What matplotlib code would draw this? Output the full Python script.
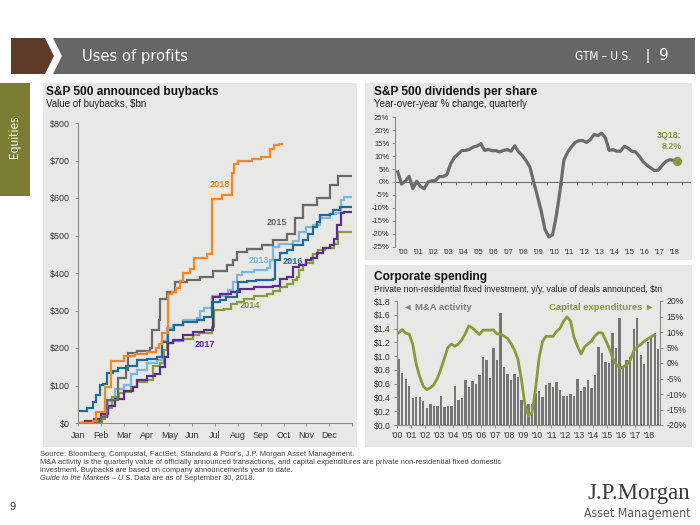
import matplotlib
matplotlib.use('Agg')
import matplotlib.pyplot as plt
import matplotlib.transforms as mtrans
from matplotlib.patches import Rectangle, Polygon

plt.rcParams['font.family'] = ['Liberation Sans', 'DejaVu Sans']

# ---------------- data ----------------
months = ['Jan', 'Feb', 'Mar', 'Apr', 'May', 'Jun',
          'Jul', 'Aug', 'Sep', 'Oct', 'Nov', 'Dec']

# announced buybacks, cumulative $bn (x = month of year, 0 = Jan 1)
bb2013_x = [0, 0.7, 1.0, 1.3, 1.6, 2.0, 2.3, 2.57, 3.0, 3.45, 3.7, 3.9, 4.18, 4.6, 5.2, 5.35,
            5.5, 5.86, 6.2, 6.55, 6.8, 6.95, 7.2, 7.7, 8.26, 8.4, 8.55, 8.8, 9.42, 9.7, 10.0,
            10.3, 10.6, 11.04, 11.3, 11.5, 11.65, 12.0]
bb2013_y = [0, 5, 20, 60, 90, 101, 130, 141, 160, 168, 220, 253, 261, 275, 280, 300,
            308, 340, 340, 355, 375, 396, 403, 409, 413, 435, 470, 478, 485, 510, 523,
            527, 548, 557, 560, 595, 603, 603]

bb2014_x = [0, 0.8, 1.04, 1.2, 1.5, 1.8, 2.0, 2.3, 2.6, 3.0, 3.3, 3.6, 3.75, 3.88, 4.18, 4.6,
            5.05, 5.3, 5.8, 5.86, 5.97, 6.4, 6.7, 6.95, 7.25, 7.7, 8.26, 8.55, 8.85, 9.14, 9.4,
            9.6, 9.7, 9.85, 10.0, 10.3, 10.5, 10.8, 11.2, 11.4, 12.0]
bb2014_y = [0, 3, 11, 40, 70, 80, 84, 95, 110, 115, 153, 161, 195, 213, 218, 225,
            235, 240, 240, 257, 301, 305, 318, 323, 331, 340, 345, 351, 363, 372, 381,
            390, 408, 421, 428, 450, 462, 467, 478, 510, 510]

bb2015_x = [0, 0.9, 1.0, 1.26, 1.75, 2.1, 2.2, 2.57, 3.15, 3.23, 3.56, 3.6, 3.88, 4.25, 4.76,
            5.34, 5.93, 6.51, 6.8, 6.95, 7.39, 8.04, 8.55, 9.14, 9.5, 9.86, 10.45, 11.04,
            11.4, 12.0]
bb2015_y = [0, 5, 16, 61, 120, 141, 186, 192, 200, 248, 275, 331, 350, 375, 381,
            390, 405, 421, 435, 455, 465, 475, 487, 505, 547, 582, 600, 634,
            660, 660]

bb2016_x = [0, 0.38, 0.67, 0.8, 0.96, 1.1, 1.26, 1.55, 1.77, 2.1, 2.57, 3.0, 3.45, 3.6, 3.7,
            3.96, 4.2, 4.6, 5.2, 5.5, 5.86, 6.2, 6.5, 6.95, 7.0, 7.4, 7.8, 8.55, 8.63, 8.85,
            9.14, 9.43, 9.87, 10.09, 10.31, 10.45, 10.6, 11.04, 11.18, 11.48, 12.0]
bb2016_y = [33, 40, 57, 74, 101, 104, 133, 138, 147, 151, 168, 172, 177, 177, 217,
            248, 261, 270, 276, 282, 323, 329, 336, 353, 377, 380, 382, 385, 435, 453,
            462, 475, 487, 505, 523, 535, 555, 558, 567, 577, 577]

bb2017_x = [0, 0.3, 0.7, 1.0, 1.3, 1.6, 2.0, 2.4, 2.57, 3.0, 3.38, 3.6, 3.8, 3.96, 4.18, 4.6,
            5.05, 5.5, 5.9, 6.2, 6.7, 7.1, 7.7, 8.55, 8.85, 9.14, 9.4, 9.7, 10.0, 10.2, 10.45,
            10.75, 11.04, 11.2, 11.35, 11.5, 11.65, 12.0]
bb2017_y = [0, 5, 10, 25, 45, 65, 85, 95, 115, 125, 132, 150, 177, 213, 222, 235,
            244, 247, 337, 345, 350, 357, 362, 366, 385, 390, 417, 422, 435, 440, 453,
            467, 475, 492, 528, 559, 563, 563]

bb2018_x = [0, 0.66, 0.8, 1.18, 1.45, 2.0, 2.5, 3.0, 3.4, 3.55, 3.7, 3.95, 4.1, 4.3, 4.45,
            4.6, 4.9, 5.1, 5.63, 5.87, 6.29, 6.75, 6.85, 7.0, 7.6, 8.0, 8.4, 8.6, 8.8, 8.95]
bb2018_y = [0, 5, 30, 95, 165, 180, 185, 190, 200, 210, 240, 345, 350, 360, 380,
            400, 410, 440, 450, 598, 608, 667, 692, 700, 705, 710, 730, 741, 745, 745]

# S&P 500 dividends per share, y/y %, quarterly 1Q00 - 3Q18
div_years = list(range(2000, 2019))
div_yoy = [3.9, -0.8, 0.3, 2.2, -2.6, 0.3, -1.7, -2.6, 0.0, 0.5, 0.6, 2.1,
           2.1, 2.8, 7.0, 9.5, 10.8, 12.2, 12.2, 12.6, 13.5, 13.9, 14.8, 12.2,
           12.6, 12.1, 12.1, 11.6, 12.2, 12.5, 11.9, 14.0, 11.6, 10.2, 8.2, 5.8,
           0.0, -5.5, -11.3, -18.4, -21.2, -20.4, -13.0, -3.0, 8.5, 11.5, 13.6, 15.3,
           16.0, 16.0, 15.3, 16.4, 18.4, 17.9, 18.9, 17.0, 12.2, 12.5, 11.9, 11.9,
           13.8, 13.1, 11.9, 11.6, 9.9, 7.8, 6.5, 5.4, 4.4, 4.6, 6.4, 7.9,
           8.6, 8.4, 8.2]

# M&A activity, $tn, quarterly 1Q00 - 3Q18
ma_tn = [0.96, 0.76, 0.67, 0.56, 0.39, 0.41, 0.41, 0.35, 0.25, 0.30, 0.28, 0.28,
         0.42, 0.26, 0.28, 0.28, 0.57, 0.37, 0.39, 0.65, 0.55, 0.64, 0.60, 0.73,
         0.98, 0.95, 0.68, 1.12, 0.95, 1.63, 0.84, 0.74, 0.65, 0.74, 0.69, 0.36,
         0.35, 0.30, 0.30, 0.47, 0.50, 0.41, 0.58, 0.61, 0.55, 0.63, 0.51, 0.42,
         0.42, 0.45, 0.42, 0.67, 0.50, 0.55, 0.66, 0.53, 0.72, 1.13, 1.04, 0.92,
         0.90, 1.33, 1.12, 1.56, 0.85, 0.94, 0.99, 1.39, 1.55, 1.02, 0.88, 1.21,
         1.28, 1.34, 1.10]

# capital expenditures y/y %, quarterly 1Q00 - 2Q18
capex_yoy = [9.7, 10.8, 9.6, 9.3, 6.0, -0.5, -4.5, -7.5, -8.6, -8.0, -7.0, -5.0,
             -2.0, 1.5, 5.0, 6.1, 5.4, 6.1, 7.5, 9.5, 12.0, 11.3, 10.3, 9.2,
             10.6, 10.6, 10.6, 10.7, 9.4, 9.3, 8.7, 8.0, 6.3, 4.2, 1.2, -5.5,
             -13.5, -17.0, -16.0, -8.5, 1.5, 7.0, 8.6, 8.6, 8.6, 10.2, 11.2, 13.5,
             14.9, 13.5, 8.2, 5.3, 2.9, 5.2, 6.2, 7.1, 8.8, 9.8, 9.7, 7.4,
             4.8, 1.6, -0.4, -1.6, -1.3, -0.5, 0.9, 3.9, 5.2, 5.9, 7.0, 7.8,
             8.5, 9.1]

# ---------------- style ----------------
W, H = 700, 525
PANEL = '#e8e8e6'
AXC = '#8c8c8c'
TXT = '#333333'
OLIVE = '#8a9a3a'


def fx(px):
    return px / W


def fy(py):
    return 1 - py / H


fig = plt.figure(figsize=(7, 5.25), dpi=100)
fig.patch.set_facecolor('white')


def rect(x0, y0, x1, y1, color):
    fig.patches.append(Rectangle((fx(x0), fy(y1)), (x1 - x0) / W, (y1 - y0) / H,
                                 transform=fig.transFigure, facecolor=color,
                                 edgecolor='none', zorder=-5))


def poly(pts, color):
    fig.patches.append(Polygon([(fx(a), fy(b)) for a, b in pts], closed=True,
                               transform=fig.transFigure, facecolor=color,
                               edgecolor='none', zorder=-5))


def add_ax(x0, y0, x1, y1):
    a = fig.add_axes([fx(x0), fy(y1), (x1 - x0) / W, (y1 - y0) / H])
    a.set_facecolor('none')
    return a


def style_ax(a, left=True, bottom=True, right=False):
    for s in ['top', 'right', 'left', 'bottom']:
        a.spines[s].set_visible(False)
    for s, on in [('left', left), ('bottom', bottom), ('right', right)]:
        if on:
            a.spines[s].set_visible(True)
            a.spines[s].set_color(AXC)
            a.spines[s].set_linewidth(0.8)
    a.tick_params(length=2.5, width=0.7, color=AXC, labelsize=6.2,
                  labelcolor=TXT, pad=2)


# header
poly([(11, 38), (45, 38), (54, 56), (45, 74), (11, 74)], '#5e3a28')
poly([(53, 38), (695, 38), (695, 74), (53, 74), (62, 56)], '#666666')
fig.text(fx(82), fy(56), 'Uses of profits', color='white', fontsize=11.8,
         va='center', family='DejaVu Sans', fontstretch='condensed')
fig.text(fx(632), fy(57), 'GTM \u2013 U.S.', color='white', fontsize=8.5,
         va='center', ha='right', family='DejaVu Sans', fontstretch='condensed')
fig.text(fx(648), fy(56), '|', color='white', fontsize=11, va='center', ha='center')
fig.text(fx(664), fy(56), '9', color='white', fontsize=11, va='center', ha='center',
         family='DejaVu Sans')

# side tab
rect(0, 83, 30, 196, '#7b7d33')
fig.text(fx(15), fy(137), 'Equities', color='white', fontsize=8.5, rotation=90,
         va='center', ha='center', family='DejaVu Sans', fontstretch='condensed')

# panels
rect(43, 83, 357, 447, PANEL)
rect(365, 83, 692, 260, PANEL)
rect(365, 265, 692, 447, PANEL)

# ---------------- buybacks ----------------
fig.text(fx(46), fy(92), 'S&P 500 announced buybacks', fontsize=8.6,
         weight='bold', va='center', color='#111111')
fig.text(fx(46), fy(104), 'Value of buybacks, $bn', fontsize=7, va='center',
         color='#222222')

ax1 = add_ax(78, 123, 352, 423)
series = [
    (bb2013_x, bb2013_y, '#7db7db', '2013', 7.9, 433),
    (bb2014_x, bb2014_y, '#8a9b3b', '2014', 7.53, 313),
    (bb2017_x, bb2017_y, '#5b2d8e', '2017', 5.56, 210),
    (bb2016_x, bb2016_y, '#1f6b97', '2016', 9.42, 432),
    (bb2015_x, bb2015_y, '#696969', '2015', 8.72, 535),
    (bb2018_x, bb2018_y, '#f7871f', '2018', 6.22, 637),
]
for xs, ys, col, lab, lx, ly in series:
    ax1.plot(xs, ys, drawstyle='steps-post', color=col, lw=1.6,
             solid_joinstyle='miter')
    ax1.text(lx, ly, lab, color=col, fontsize=6.6, weight='bold',
             ha='center', va='center')
ax1.set_xlim(0, 12)
ax1.set_ylim(0, 800)
ax1.set_xticks(range(13))
ax1.set_xticklabels(months + [''])
ax1.set_yticks(range(0, 801, 100))
ax1.set_yticklabels(['$%d' % v for v in range(0, 801, 100)])
style_ax(ax1)
ax1.tick_params(labelsize=6.4, pad=3)

# ---------------- dividends ----------------
fig.text(fx(374), fy(92), 'S&P 500 dividends per share', fontsize=8.6,
         weight='bold', va='center', color='#111111')
fig.text(fx(374), fy(104), 'Year-over-year % change, quarterly', fontsize=7,
         va='center', color='#222222')

ax2 = add_ax(395.5, 117.3, 690, 246.7)
div_x = [y + 0.15 + 0.25 * q for y in div_years for q in range(4)][:len(div_yoy)]
ax2.plot(div_x, div_yoy, color='#6b6b6b', lw=2.3, solid_joinstyle='round')
ax2.scatter([div_x[-1]], [div_yoy[-1]], s=32, color=OLIVE, zorder=5)
ax2.text(2018.93, 15.7, '3Q18:\n8.2%', color=OLIVE, fontsize=6.4, weight='bold',
         ha='right', va='center', multialignment='right', linespacing=1.3)
ax2.set_xlim(2000, 2019.5)
ax2.set_ylim(-25, 25)
ax2.set_yticks(range(-25, 26, 5))
ax2.set_yticklabels(['%d%%' % v for v in range(-25, 26, 5)])
style_ax(ax2)
ax2.spines['bottom'].set_position(('data', 0))
ax2.spines['bottom'].set_color('#707070')
ax2.set_xticks([y + 1 for y in div_years])
ax2.tick_params(axis='x', labelbottom=False, length=2, color='#707070')
ax2.tick_params(axis='y', labelsize=5.5)
tb = mtrans.blended_transform_factory(ax2.transData, ax2.transAxes)
for y in div_years:
    ax2.text(y + 0.5, -0.043, "'%02d" % (y % 100), transform=tb, fontsize=5.5,
             ha='center', va='center', color=TXT)

# ---------------- corporate spending ----------------
fig.text(fx(374), fy(277), 'Corporate spending', fontsize=8.6,
         weight='bold', va='center', color='#111111')
fig.text(fx(374), fy(289.5),
         'Private non-residential fixed investment, y/y, value of deals announced, $tn',
         fontsize=6.2, va='center', color='#222222')

ax3 = add_ax(397, 301, 660, 425)
ma_x = [2000 + 0.125 + 0.25 * i for i in range(len(ma_tn))]
capex_x = ma_x[:len(capex_yoy)]
ax3.bar(ma_x, ma_tn, width=0.17, color='#767676', zorder=1)
ax3.set_xlim(2000, 2018.75)
ax3.set_ylim(0, 1.8)
ax3.set_yticks([i * 0.2 for i in range(10)])
ax3.set_yticklabels(['$%.1f' % (i * 0.2) for i in range(10)])
ax3.set_xticks(div_years)
ax3.set_xticklabels(["'%02d" % (y % 100) for y in div_years])
style_ax(ax3)
ax3.tick_params(labelsize=6.2)

ax3r = ax3.twinx()
ax3r.set_facecolor('none')
ax3r.plot(capex_x, capex_yoy, color=OLIVE, lw=2, solid_joinstyle='round', zorder=3)
ax3r.set_ylim(-20, 20)
ax3r.set_yticks(range(-20, 21, 5))
ax3r.set_yticklabels(['%d%%' % v for v in range(-20, 21, 5)])
style_ax(ax3r, left=False, bottom=False, right=True)
ax3r.tick_params(labelsize=6.2)

fig.text(fx(403), fy(307), '\u25c4 M&A activity', fontsize=6.8, weight='bold',
         color='#7f7f7f', va='center', ha='left')
fig.text(fx(654), fy(307), 'Capital expenditures \u25ba', fontsize=6.8,
         weight='bold', color=OLIVE, va='center', ha='right')

# ---------------- footer ----------------
foot = [
    "Source: Bloomberg, Compustat, FactSet, Standard & Poor's, J.P. Morgan Asset Management.",
    "M&A activity is the quarterly value of officially announced transactions, and capital "
    "expenditures are private non-residential fixed domestic",
    "investment. Buybacks are based on company announcements year to date.",
]
for i, line in enumerate(foot):
    fig.text(fx(40), fy(454 + 8 * i), line, fontsize=5.4, va='center', color='#404040')
t_it = fig.text(fx(40), fy(478), 'Guide to the Markets \u2013 U.S.', fontsize=5.4,
                va='center', color='#404040', style='italic')
ax1.annotate(' Data are as of September 30, 2018.', xy=(1, 0.5), xycoords=t_it,
             va='center', ha='left', fontsize=5.4, color='#404040',
             annotation_clip=False)

fig.text(fx(13), fy(507), '9', fontsize=8, va='center', ha='center', color='#333333')
fig.text(fx(690), fy(494), 'J.P.Morgan', fontsize=16.5, va='center', ha='right',
         family='Liberation Serif', color='#3a3a3a')
fig.text(fx(690), fy(514), 'Asset Management', fontsize=8.8, va='center', ha='right',
         family='DejaVu Sans', fontstretch='condensed', color='#555555')

fig.savefig('out.png', dpi=100)
